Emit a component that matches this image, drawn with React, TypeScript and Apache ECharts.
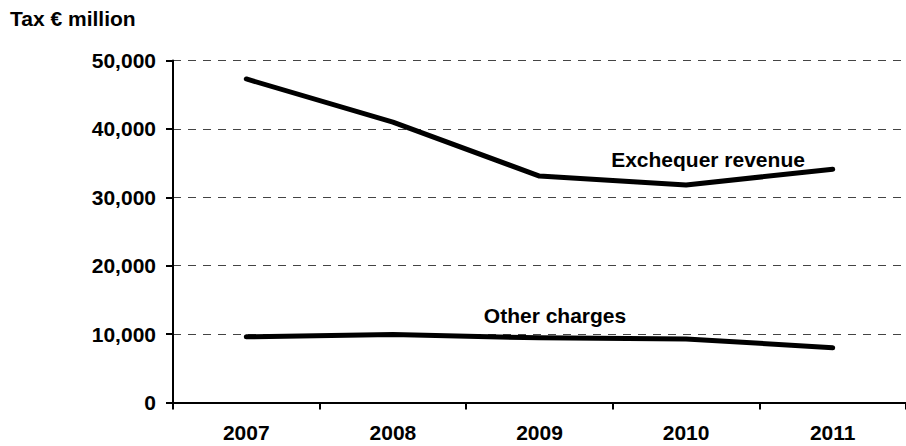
import React, { useEffect, useRef } from "react";
import * as echarts from "echarts";

const years = ["2007", "2008", "2009", "2010", "2011"];
const exchequerRevenue = [47300, 41000, 33100, 31800, 34100];
const otherCharges = [9600, 9950, 9450, 9300, 8000];
const yTicks = { min: 0, max: 50000, interval: 10000 };

const FONT = "'Liberation Sans', Arial, Helvetica, sans-serif";

export default function App() {
  const ref = useRef<HTMLDivElement>(null);
  useEffect(() => {
    if (!ref.current) return;
    const chart = echarts.init(ref.current, null, { renderer: "svg" });
    chart.setOption({
      animation: false,
      backgroundColor: "#ffffff",
      grid: { left: 173, right: -3, top: 60.5, bottom: 43.5, containLabel: false },
      xAxis: {
        type: "category",
        data: years,
        boundaryGap: true,
        axisLine: { show: true, lineStyle: { color: "#000", width: 2 } },
        axisTick: { show: true, inside: false, length: 7, alignWithLabel: false, lineStyle: { color: "#000", width: 2 } },
        axisLabel: { color: "#000", fontFamily: FONT, fontWeight: "bold", fontSize: 21, margin: 19 },
        splitLine: { show: false },
      },
      yAxis: {
        type: "value",
        min: yTicks.min,
        max: yTicks.max,
        interval: yTicks.interval,
        axisLine: { show: true, lineStyle: { color: "#000", width: 2 } },
        axisTick: { show: true, inside: false, length: 7, lineStyle: { color: "#000", width: 2 } },
        axisLabel: {
          color: "#000",
          fontFamily: FONT,
          fontWeight: "bold",
          fontSize: 21,
          margin: 17,
          formatter: (v: number) => v.toLocaleString("en-US"),
        },
        splitLine: { show: true, lineStyle: { color: "#444", width: 1, type: [8, 7] } },
      },
      series: [
        {
          name: "Exchequer revenue",
          type: "line",
          data: exchequerRevenue,
          symbol: "none",
          lineStyle: { color: "#000", width: 5, cap: "round", join: "round" },
        },
        {
          name: "Other charges",
          type: "line",
          data: otherCharges,
          symbol: "none",
          lineStyle: { color: "#000", width: 5, cap: "round", join: "round" },
        },
      ],
      graphic: [
        {
          type: "text",
          left: 10,
          top: 8,
          style: { text: "Tax € million", fill: "#000", font: `bold 21px ${FONT}` },
        },
        {
          type: "text",
          x: 708,
          y: 159,
          style: { text: "Exchequer revenue", fill: "#000", font: `bold 21px ${FONT}`, align: "center", verticalAlign: "middle" },
        },
        {
          type: "text",
          x: 555,
          y: 315,
          style: { text: "Other charges", fill: "#000", font: `bold 21px ${FONT}`, align: "center", verticalAlign: "middle" },
        },
      ],
    });
    return () => chart.dispose();
  }, []);
  return <div ref={ref} style={{ width: 906, height: 446, position: "fixed", left: 0, top: 0 }} />;
}
